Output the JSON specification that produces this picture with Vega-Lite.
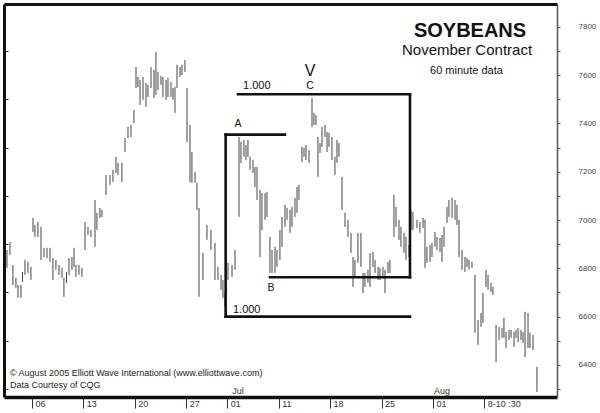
{
"$schema": "https://vega.github.io/schema/vega-lite/v6.json",
"width": 553, "height": 393,
"autosize": {"type": "none"},
"padding": {"left": 4, "top": 4, "right": 43, "bottom": 16},
"background": "white",
"config": {"font": "Liberation Sans", "view": {"stroke": null}},
"datasets": {
"bars": [
{"t":-2.43,"h":6876,"l":6802},{"t":-2.14,"h":6909,"l":6856},{"t":-1.85,"h":6814,"l":6731},{"t":-1.56,"h":6760,"l":6719},{"t":-1.36,"h":6731,"l":6678},{"t":-1.07,"h":6731,"l":6678},{"t":-0.92,"h":6785,"l":6744},{"t":-0.68,"h":6835,"l":6773},{"t":-0.39,"h":6827,"l":6781},{"t":-0.10,"h":6806,"l":6752},
{"t":0.10,"h":7009,"l":6951},{"t":0.29,"h":6980,"l":6930},{"t":0.58,"h":6992,"l":6930},{"t":0.88,"h":6972,"l":6835},{"t":1.17,"h":6885,"l":6847},{"t":1.46,"h":6885,"l":6843},{"t":1.75,"h":6885,"l":6827},{"t":2.04,"h":6843,"l":6752},{"t":2.33,"h":6835,"l":6794},{"t":2.63,"h":6814,"l":6773},
{"t":2.92,"h":6802,"l":6760},{"t":3.11,"h":6760,"l":6682},{"t":3.36,"h":6785,"l":6740},{"t":3.60,"h":6843,"l":6773},{"t":3.89,"h":6847,"l":6794},{"t":4.09,"h":6885,"l":6806},{"t":4.28,"h":6814,"l":6765},{"t":4.57,"h":6814,"l":6773},{"t":4.86,"h":6802,"l":6765},{"t":5.16,"h":6992,"l":6876},
{"t":5.45,"h":6972,"l":6938},{"t":5.74,"h":6959,"l":6930},{"t":6.13,"h":7083,"l":6889},{"t":6.32,"h":7030,"l":6959},{"t":6.61,"h":7050,"l":7009},{"t":6.81,"h":7042,"l":7013},{"t":7.20,"h":7187,"l":7104},{"t":7.59,"h":7187,"l":7146},{"t":7.88,"h":7208,"l":7158},{"t":8.17,"h":7262,"l":7195},
{"t":8.37,"h":7237,"l":7187},{"t":8.75,"h":7237,"l":7158},{"t":9.05,"h":7340,"l":7282},{"t":9.34,"h":7386,"l":7340},{"t":9.63,"h":7394,"l":7344},{"t":9.92,"h":7456,"l":7402},{"t":10.12,"h":7634,"l":7547},{"t":10.31,"h":7593,"l":7551},{"t":10.51,"h":7580,"l":7477},{"t":10.80,"h":7593,"l":7498},
{"t":11.09,"h":7568,"l":7469},{"t":11.28,"h":7560,"l":7510},{"t":11.58,"h":7634,"l":7547},{"t":11.87,"h":7622,"l":7506},{"t":12.06,"h":7696,"l":7518},{"t":12.26,"h":7614,"l":7539},{"t":12.55,"h":7597,"l":7560},{"t":12.74,"h":7593,"l":7510},{"t":13.04,"h":7580,"l":7498},{"t":13.23,"h":7589,"l":7510},
{"t":13.52,"h":7572,"l":7510},{"t":13.72,"h":7547,"l":7498},{"t":13.91,"h":7551,"l":7444},{"t":14.11,"h":7643,"l":7547},{"t":14.40,"h":7634,"l":7593},{"t":14.59,"h":7643,"l":7601},{"t":14.88,"h":7663,"l":7614},{"t":15.08,"h":7547,"l":7324},{"t":15.37,"h":7394,"l":7158},{"t":15.56,"h":7282,"l":7154},
{"t":15.86,"h":7199,"l":7154},{"t":16.05,"h":7154,"l":7042},{"t":16.25,"h":7050,"l":6682},{"t":16.63,"h":6864,"l":6752},{"t":17.02,"h":6980,"l":6918},{"t":17.41,"h":6959,"l":6876},{"t":17.80,"h":6905,"l":6752},{"t":18.09,"h":6806,"l":6752},{"t":18.39,"h":6773,"l":6711},{"t":18.58,"h":6752,"l":6678},
{"t":18.77,"h":6698,"l":6640},{"t":19.07,"h":6823,"l":6752},{"t":19.46,"h":6814,"l":6765},{"t":19.75,"h":6876,"l":6794},{"t":20.14,"h":7344,"l":7013},{"t":20.33,"h":7324,"l":7237},{"t":20.62,"h":7332,"l":7262},{"t":20.82,"h":7311,"l":7249},{"t":21.01,"h":7332,"l":7262},{"t":21.21,"h":7262,"l":7208},
{"t":21.50,"h":7249,"l":7195},{"t":21.69,"h":7220,"l":7137},{"t":21.89,"h":7220,"l":7083},{"t":22.18,"h":7125,"l":6847},{"t":22.37,"h":7112,"l":6959},{"t":22.67,"h":7112,"l":7001},{"t":22.86,"h":7117,"l":7013},{"t":23.15,"h":6930,"l":6781},{"t":23.35,"h":6876,"l":6781},{"t":23.64,"h":6889,"l":6781},
{"t":23.83,"h":6876,"l":6806},{"t":24.12,"h":6959,"l":6835},{"t":24.32,"h":7013,"l":6889},{"t":24.61,"h":7063,"l":6972},{"t":24.81,"h":7050,"l":7001},{"t":25.10,"h":7042,"l":6947},{"t":25.29,"h":7054,"l":6972},{"t":25.58,"h":7092,"l":7013},{"t":25.78,"h":7137,"l":7030},{"t":25.97,"h":7146,"l":7083},
{"t":26.26,"h":7303,"l":7241},{"t":26.46,"h":7299,"l":7262},{"t":26.65,"h":7311,"l":7249},{"t":26.95,"h":7290,"l":7237},{"t":27.24,"h":7506,"l":7386},{"t":27.43,"h":7444,"l":7394},{"t":27.63,"h":7435,"l":7394},{"t":27.82,"h":7344,"l":7179},{"t":28.02,"h":7319,"l":7278},{"t":28.21,"h":7386,"l":7303},
{"t":28.50,"h":7394,"l":7344},{"t":28.70,"h":7365,"l":7282},{"t":28.89,"h":7361,"l":7303},{"t":29.18,"h":7344,"l":7249},{"t":29.47,"h":7262,"l":7187},{"t":29.67,"h":7332,"l":7237},{"t":29.86,"h":7319,"l":7262},{"t":30.16,"h":7179,"l":7042},{"t":30.45,"h":7030,"l":6972},{"t":30.74,"h":7001,"l":6930},
{"t":31.03,"h":6947,"l":6864},{"t":31.23,"h":6847,"l":6723},{"t":31.42,"h":6835,"l":6765},{"t":31.71,"h":6947,"l":6823},{"t":32.00,"h":6947,"l":6806},{"t":32.20,"h":6781,"l":6698},{"t":32.39,"h":6781,"l":6723},{"t":32.68,"h":6794,"l":6740},{"t":32.88,"h":6864,"l":6723},{"t":33.17,"h":6868,"l":6806},
{"t":33.37,"h":6835,"l":6781},{"t":33.66,"h":6806,"l":6752},{"t":33.85,"h":6802,"l":6752},{"t":34.14,"h":6806,"l":6765},{"t":34.34,"h":6794,"l":6698},{"t":34.63,"h":6827,"l":6781},{"t":34.82,"h":6835,"l":6781},{"t":35.21,"h":7104,"l":6930},{"t":35.41,"h":7054,"l":6972},{"t":35.70,"h":7001,"l":6918},
{"t":35.89,"h":6972,"l":6889},{"t":36.19,"h":6947,"l":6864},{"t":36.38,"h":6930,"l":6835},{"t":36.67,"h":6897,"l":6847},{"t":36.87,"h":7042,"l":6959},{"t":37.06,"h":7034,"l":6959},{"t":37.45,"h":7001,"l":6967},{"t":37.74,"h":6992,"l":6947},{"t":38.04,"h":7009,"l":6967},{"t":38.23,"h":7001,"l":6802},
{"t":38.42,"h":6889,"l":6823},{"t":38.72,"h":6897,"l":6827},{"t":38.91,"h":6905,"l":6847},{"t":39.20,"h":6951,"l":6889},{"t":39.40,"h":6930,"l":6876},{"t":39.69,"h":6926,"l":6868},{"t":39.88,"h":6938,"l":6827},{"t":40.08,"h":6972,"l":6889},{"t":40.37,"h":7054,"l":6988},{"t":40.56,"h":7083,"l":7013},
{"t":40.86,"h":7092,"l":7009},{"t":41.15,"h":7083,"l":7001},{"t":41.34,"h":7063,"l":6980},{"t":41.54,"h":7001,"l":6847},{"t":41.83,"h":6876,"l":6794},{"t":42.12,"h":6847,"l":6785},{"t":42.32,"h":6843,"l":6806},{"t":42.51,"h":6835,"l":6794},{"t":42.80,"h":6827,"l":6802},{"t":43.09,"h":6773,"l":6533},
{"t":43.39,"h":6586,"l":6483},{"t":43.68,"h":6615,"l":6557},{"t":43.87,"h":6698,"l":6574},{"t":44.16,"h":6794,"l":6723},{"t":44.36,"h":6773,"l":6711},{"t":44.65,"h":6740,"l":6702},{"t":44.84,"h":6723,"l":6690},{"t":45.14,"h":6566,"l":6412},{"t":45.43,"h":6557,"l":6503},{"t":45.72,"h":6553,"l":6512},
{"t":45.91,"h":6595,"l":6512},{"t":46.11,"h":6537,"l":6470},{"t":46.40,"h":6545,"l":6503},{"t":46.60,"h":6545,"l":6512},{"t":46.89,"h":6537,"l":6475},{"t":47.08,"h":6545,"l":6512},{"t":47.28,"h":6553,"l":6495},{"t":47.57,"h":6545,"l":6503},{"t":47.76,"h":6537,"l":6491},{"t":47.96,"h":6620,"l":6433},
{"t":48.25,"h":6615,"l":6470},{"t":48.44,"h":6533,"l":6470},{"t":48.74,"h":6524,"l":6462},{"t":49.12,"h":6392,"l":6288}
],
"lines": [
{"x1":20.04,"x2":36.77,"y1":7521,"y2":7521},
{"x1":18.84,"x2":24.61,"y1":7354,"y2":7354},
{"x1":18.84,"x2":18.84,"y1":7354,"y2":6600},
{"x1":18.84,"x2":36.77,"y1":6600,"y2":6600},
{"x1":23.15,"x2":36.77,"y1":6763,"y2":6763},
{"x1":36.77,"x2":36.77,"y1":7521,"y2":6763}
]
},
"layer": [
{
"data": {"name": "bars"},
"mark": {"type": "rule", "color": "#444", "strokeWidth": 1},
"encoding": {
"x": {"field": "t", "type": "quantitative", "scale": {"domain": [-2.72, 51.07], "nice": false, "zero": false},
"axis": {"orient": "bottom", "values": [0,5,10,15,19,24,29,34,39,44],
"labelExpr": "datum.value==0?'06':datum.value==5?'13':datum.value==10?'20':datum.value==15?'27':datum.value==19?'01':datum.value==24?'11':datum.value==29?'18':datum.value==34?'25':datum.value==39?'01':'8-10 :30'",
"title": null, "grid": false, "domainColor": "#111", "domainWidth": 3.5, "tickColor": "#333", "tickSize": 11, "tickWidth": 1,
"labelAlign": "left", "labelBaseline": "middle", "labelOffset": 3, "labelPadding": -5, "labelFontSize": 9, "labelColor": "#333", "labelFlush": false, "labelOverlap": false}},
"y": {"field": "h", "type": "quantitative", "scale": {"domain": [6267, 7895], "nice": false, "zero": false},
"axis": {"orient": "right", "values": [6300,6400,6500,6600,6700,6800,6900,7000,7100,7200,7300,7400,7500,7600,7700,7800],
"labelExpr": "datum.value % 200 == 0 ? format(datum.value, 'd') : ''",
"title": null, "grid": false, "domainColor": "#555", "domainWidth": 1.5, "tickColor": "#555", "tickSize": 3,
"labelPadding": 18, "labelFontSize": 8, "labelColor": "#444", "labelBaseline": "middle", "labelOverlap": false, "labelFlush": false}},
"y2": {"field": "l"}
}
},
{
"layer": [
{
"data": {"name": "lines"},
"mark": {"type": "rule", "color": "#111", "strokeWidth": 2.6, "strokeCap": "square"},
"encoding": {
"x": {"field": "x1", "type": "quantitative", "scale": {"domain": [-2.72, 51.07], "nice": false, "zero": false},
"axis": {"orient": "top", "labels": false, "ticks": false, "title": null, "grid": false, "domainColor": "#111", "domainWidth": 3}},
"x2": {"field": "x2"},
"y": {"field": "y1", "type": "quantitative", "scale": {"domain": [6267, 7895], "nice": false, "zero": false},
"axis": {"orient": "left", "values": [6300,6400,6500,6600,6700,6800,6900,7000,7100,7200,7300,7400,7500,7600,7700,7800], "labels": false, "title": null, "grid": false, "domainColor": "#111", "domainWidth": 3, "tickColor": "#333", "tickSize": -4}},
"y2": {"field": "y2"}
}
},
{
"data": {"values": [{"t": 42.61, "p": 7785, "label": "SOYBEANS"}]},
"mark": {"type": "text", "fontSize": 20, "fontWeight": "bold", "align": "center", "baseline": "middle", "color": "#111"},
"encoding": {"x": {"field": "t", "type": "quantitative"}, "y": {"field": "p", "type": "quantitative"}, "text": {"field": "label"}}
},
{
"data": {"values": [{"t": 42.32, "p": 7703, "label": "November Contract"}]},
"mark": {"type": "text", "fontSize": 15, "align": "center", "baseline": "middle", "color": "#111"},
"encoding": {"x": {"field": "t", "type": "quantitative"}, "y": {"field": "p", "type": "quantitative"}, "text": {"field": "label"}}
},
{
"data": {"values": [{"t": 42.26, "p": 7618, "label": "60 minute data"}]},
"mark": {"type": "text", "fontSize": 11, "align": "center", "baseline": "middle", "color": "#111"},
"encoding": {"x": {"field": "t", "type": "quantitative"}, "y": {"field": "p", "type": "quantitative"}, "text": {"field": "label"}}
},
{
"data": {"values": [{"t": -2.14, "p": 6367, "label": "© August 2005 Elliott Wave International (www.elliottwave.com)"}, {"t": -2.14, "p": 6317, "label": "Data Courtesy of CQG"}]},
"mark": {"type": "text", "fontSize": 9, "align": "left", "baseline": "middle", "color": "#222"},
"encoding": {"x": {"field": "t", "type": "quantitative"}, "y": {"field": "p", "type": "quantitative"}, "text": {"field": "label"}}
},
{
"data": {"values": [{"t": 20.04, "p": 6290, "label": "Jul"}, {"t": 39.88, "p": 6290, "label": "Aug"}]},
"mark": {"type": "text", "fontSize": 9, "align": "center", "baseline": "middle", "color": "#333"},
"encoding": {"x": {"field": "t", "type": "quantitative"}, "y": {"field": "p", "type": "quantitative"}, "text": {"field": "label"}}
},
{
"data": {"values": [{"t": 20.04, "p": 7398, "label": "A"}, {"t": 23.25, "p": 6719, "label": "B"}, {"t": 27.04, "p": 7556, "label": "C"}]},
"mark": {"type": "text", "fontSize": 10.5, "align": "center", "baseline": "middle", "color": "#111"},
"encoding": {"x": {"field": "t", "type": "quantitative"}, "y": {"field": "p", "type": "quantitative"}, "text": {"field": "label"}}
},
{
"data": {"values": [{"t": 27.04, "p": 7618, "label": "V"}]},
"mark": {"type": "text", "fontSize": 16, "align": "center", "baseline": "middle", "color": "#111"},
"encoding": {"x": {"field": "t", "type": "quantitative"}, "y": {"field": "p", "type": "quantitative"}, "text": {"field": "label"}}
},
{
"data": {"values": [{"t": 20.53, "p": 7556, "label": "1.000"}, {"t": 19.55, "p": 6628, "label": "1.000"}]},
"mark": {"type": "text", "fontSize": 11, "align": "left", "baseline": "middle", "color": "#111"},
"encoding": {"x": {"field": "t", "type": "quantitative"}, "y": {"field": "p", "type": "quantitative"}, "text": {"field": "label"}}
}
]
}
],
"resolve": {"scale": {"x": "independent", "y": "independent"}}
}
